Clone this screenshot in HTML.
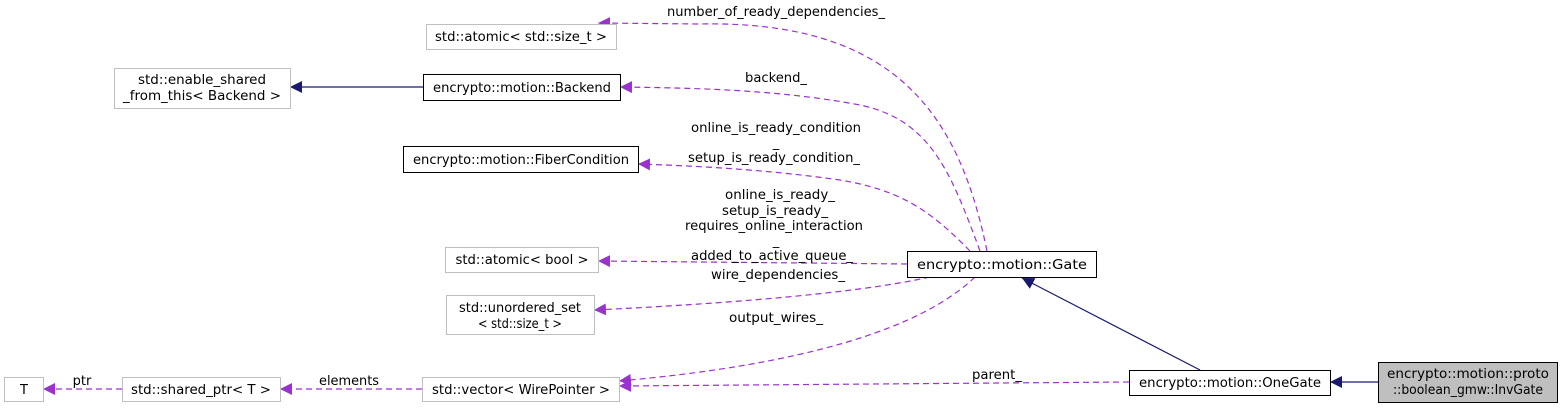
<!DOCTYPE html>
<html><head><meta charset="utf-8"><style>body{margin:0;background:#fff}svg{display:block}text{font-family:"DejaVu Sans","Liberation Sans",sans-serif;font-size:13px;fill:#000}</style></head>
<body>
<svg width="1563" height="409" viewBox="0 0 1563 409" xmlns="http://www.w3.org/2000/svg">
<defs>
<marker id="p" viewBox="0 0 10 10" refX="10" refY="5" markerWidth="12" markerHeight="12" markerUnits="userSpaceOnUse" orient="auto"><path d="M0,0 L10,5 L0,10 z" fill="#9a32cd"/></marker>
<marker id="n" viewBox="0 0 10 10" refX="10" refY="5" markerWidth="12" markerHeight="12" markerUnits="userSpaceOnUse" orient="auto"><path d="M0,0 L10,5 L0,10 z" fill="#191970"/></marker>
</defs>
<g fill="none" stroke="#9a32cd" stroke-dasharray="6,4" stroke-width="1.2">
<path d="M987,251 C960,120 900,20 700,24 L598,23" marker-end="url(#p)"/>
<path d="M980,251 C950,170 930,120 860,105 C780,90 700,88 620,87" marker-end="url(#p)"/>
<path d="M970,251 C930,210 900,190 840,180 C770,170 700,166 638,164" marker-end="url(#p)"/>
<path d="M907,264 L598,261" marker-end="url(#p)"/>
<path d="M930,277 C850,295 700,305 594,310" marker-end="url(#p)"/>
<path d="M975,277 C920,330 800,365 619,381" marker-end="url(#p)"/>
<path d="M1129,382 L619,386" marker-end="url(#p)"/>
<path d="M422,389 L280,389" marker-end="url(#p)"/>
<path d="M122,389 L43,389" marker-end="url(#p)"/>
</g>
<g fill="none" stroke="#191970" stroke-width="1.2">
<path d="M423,87 L290,87" marker-end="url(#n)"/>
<path d="M1200,370 L1022,278" marker-end="url(#n)"/>
<path d="M1378,382 L1330,382" marker-end="url(#n)"/>
</g>
<g stroke-width="1">
<rect x="426.5" y="24.5" width="190" height="25" fill="#fff" stroke="#bfbfbf"/>
<rect x="114.5" y="68.5" width="176" height="40" fill="#fff" stroke="#bfbfbf"/>
<rect x="423.5" y="74.5" width="197" height="26" fill="#fff" stroke="#000"/>
<rect x="403.5" y="146.5" width="235" height="26" fill="#fff" stroke="#000"/>
<rect x="445.5" y="247.5" width="153" height="25" fill="#fff" stroke="#bfbfbf"/>
<rect x="446.5" y="295.5" width="148" height="39" fill="#fff" stroke="#bfbfbf"/>
<rect x="907.5" y="251.5" width="189" height="26" fill="#fff" stroke="#000"/>
<rect x="4.5" y="377.5" width="39" height="24" fill="#fff" stroke="#bfbfbf"/>
<rect x="122.5" y="377.5" width="158" height="24" fill="#fff" stroke="#bfbfbf"/>
<rect x="422.5" y="377.5" width="197" height="24" fill="#fff" stroke="#bfbfbf"/>
<rect x="1129.5" y="370.5" width="201" height="25" fill="#fff" stroke="#000"/>
<rect x="1378.5" y="362.5" width="179" height="40" fill="#bfbfbf" stroke="#000"/>
</g>
<g text-anchor="middle">
<text x="521" y="41" textLength="172" lengthAdjust="spacingAndGlyphs">std::atomic&lt; std::size_t &gt;</text>
<text x="202" y="84" textLength="128" lengthAdjust="spacingAndGlyphs">std::enable_shared</text>
<text x="202" y="100" textLength="158" lengthAdjust="spacingAndGlyphs">_from_this&lt; Backend &gt;</text>
<text x="522" y="92" textLength="178" lengthAdjust="spacingAndGlyphs">encrypto::motion::Backend</text>
<text x="521" y="164" textLength="216" lengthAdjust="spacingAndGlyphs">encrypto::motion::FiberCondition</text>
<text x="522" y="264" textLength="133" lengthAdjust="spacingAndGlyphs">std::atomic&lt; bool &gt;</text>
<text x="520" y="312" textLength="122" lengthAdjust="spacingAndGlyphs">std::unordered_set</text>
<text x="520" y="328" textLength="84" lengthAdjust="spacingAndGlyphs">&lt; std::size_t &gt;</text>
<text x="1002" y="269" textLength="170" lengthAdjust="spacingAndGlyphs">encrypto::motion::Gate</text>
<text x="24" y="394">T</text>
<text x="201" y="394" textLength="140" lengthAdjust="spacingAndGlyphs">std::shared_ptr&lt; T &gt;</text>
<text x="521" y="394" textLength="178" lengthAdjust="spacingAndGlyphs">std::vector&lt; WirePointer &gt;</text>
<text x="1230" y="387" textLength="182" lengthAdjust="spacingAndGlyphs">encrypto::motion::OneGate</text>
<text x="1468" y="378" textLength="162" lengthAdjust="spacingAndGlyphs">encrypto::motion::proto</text>
<text x="1468" y="394" textLength="150" lengthAdjust="spacingAndGlyphs">::boolean_gmw::InvGate</text>
<text x="776" y="16" textLength="218" lengthAdjust="spacingAndGlyphs">number_of_ready_dependencies_</text>
<text x="776" y="82" textLength="62" lengthAdjust="spacingAndGlyphs">backend_</text>
<text x="776" y="132" textLength="170" lengthAdjust="spacingAndGlyphs">online_is_ready_condition</text>
<text x="776" y="147">_</text>
<text x="774" y="162" textLength="172" lengthAdjust="spacingAndGlyphs">setup_is_ready_condition_</text>
<text x="780" y="199" textLength="110" lengthAdjust="spacingAndGlyphs">online_is_ready_</text>
<text x="775" y="215" textLength="106" lengthAdjust="spacingAndGlyphs">setup_is_ready_</text>
<text x="774" y="230" textLength="178" lengthAdjust="spacingAndGlyphs">requires_online_interaction</text>
<text x="776" y="245">_</text>
<text x="772" y="260" textLength="162" lengthAdjust="spacingAndGlyphs">added_to_active_queue_</text>
<text x="778" y="279" textLength="134" lengthAdjust="spacingAndGlyphs">wire_dependencies_</text>
<text x="776" y="322" textLength="94" lengthAdjust="spacingAndGlyphs">output_wires_</text>
<text x="997" y="379" textLength="50" lengthAdjust="spacingAndGlyphs">parent_</text>
<text x="349" y="385" textLength="60" lengthAdjust="spacingAndGlyphs">elements</text>
<text x="82" y="385">ptr</text>
</g>
</svg>
</body></html>
